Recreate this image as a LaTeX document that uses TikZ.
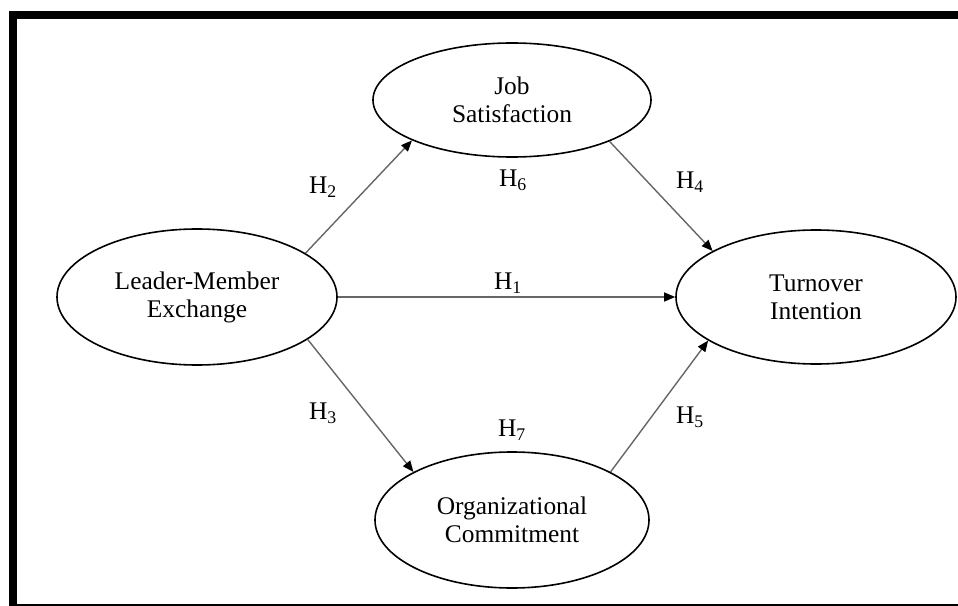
\documentclass[tikz,border=0pt]{standalone}
\usepackage{fontspec}
\setmainfont{Liberation Serif}
\usetikzlibrary{shapes.geometric,arrows.meta}
\tikzset{
  semconstruct/.style={ellipse, draw, line width=1.6bp, align=center,
                       inner sep=0pt, font=\fontsize{25.5}{28}\selectfont},
  sempath/.style={draw, line width=1.4bp, black!60,
                  -{Triangle[length=11bp, width=9bp, color=black]}},
  semlabel/.style={font=\fontsize{25.5}{28}\selectfont, inner sep=0pt}
}

\begin{document}
\begin{tikzpicture}[x=1bp, y=-1bp]
  \useasboundingbox (0,0) rectangle (958,606);
  % frame
  \fill (9,11) rectangle (958,19);
  \fill (9,11) rectangle (17,605);
  \fill (9,603.5) rectangle (958,605.5);

  \node[semconstruct, minimum width=280bp, minimum height=136bp] (lmx)
    at (197,297) {Leader-Member\\Exchange};
  \node[semconstruct, minimum width=278bp, minimum height=114bp] (js)
    at (512,100) {Job\\Satisfaction};
  \node[semconstruct, minimum width=274bp, minimum height=136bp] (oc)
    at (512,520) {Organizational\\Commitment};
  \node[semconstruct, minimum width=280bp, minimum height=134bp] (ti)
    at (816,297) {Turnover\\Intention};

  \draw[sempath] (lmx.22.6) -- (js.202.8);
  \draw[sempath] (lmx.east) -- (ti.west);
  \draw[sempath] (lmx.-21) -- (oc.154);
  \draw[sempath] (js.-23) -- (ti.156.5);
  \draw[sempath] (oc.26.6) -- (ti.202.9);

  \node[semlabel] (h1) at (508,283) {H\textsubscript{1}};
  \node[semlabel] (h2) at (323,187) {H\textsubscript{2}};
  \node[semlabel] (h3) at (323,413) {H\textsubscript{3}};
  \node[semlabel] (h4) at (690,182) {H\textsubscript{4}};
  \node[semlabel] (h5) at (690,417) {H\textsubscript{5}};
  \node[semlabel] (h6) at (513,180) {H\textsubscript{6}};
  \node[semlabel] (h7) at (512,430) {H\textsubscript{7}};
\end{tikzpicture}
\end{document}
